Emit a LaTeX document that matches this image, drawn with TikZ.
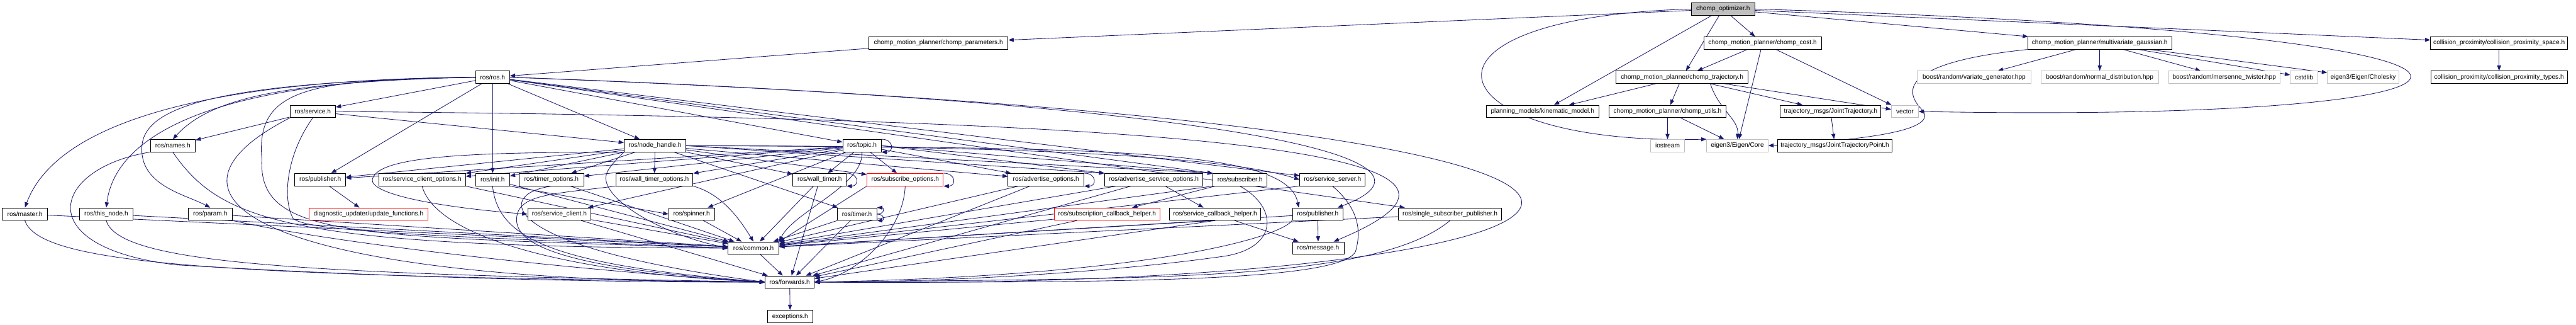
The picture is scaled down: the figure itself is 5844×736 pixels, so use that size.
\documentclass[tikz,border=0pt]{standalone}
\usepackage{fontspec}
\setmainfont{Liberation Sans}
\usetikzlibrary{arrows.meta}
\definecolor{edgeblue}{HTML}{191970}
\definecolor{rootgray}{HTML}{BFBFBF}
\definecolor{extgray}{HTML}{BFBFBF}
\pgfdeclarelayer{background}
\pgfsetlayers{background,main}

\begin{document}
\begin{tikzpicture}[
    x=1pt, y=-1pt, % one unit = one pixel of the graph, y going down
    every node/.style={font=\fontsize{14.5}{17}\selectfont},
    filebox/.style={draw=black, fill=white, line width=1.3pt,
        minimum height=28pt, inner sep=0pt},
    extbox/.style={filebox, draw=extgray},
    nodocbox/.style={filebox, draw=red},
    rootbox/.style={filebox, fill=rootgray},
    dep/.style={draw=edgeblue, line width=1.2pt,
        -{Triangle[length=12pt, width=9pt]}}
]
    \useasboundingbox (0,0) rectangle (5844,736);

    % --- 1. ROWS OF THE GRAPH ---
    \def\yA{20.5}
    \def\yB{97.5}
    \def\yC{175}
    \def\yD{252.5}
    \def\yE{330}
    \def\yF{407}
    \def\yG{485}
    \def\yH{562}
    \def\yI{639}
    \def\yJ{717}

    % --- 2. FILES ---
    \node[rootbox, minimum width=144pt] (opt) at (3909,\yA) {chomp\_optimizer.h};

    \node[filebox, minimum width=316pt] (params) at (2129,\yB) {chomp\_motion\_planner/chomp\_parameters.h};
    \node[filebox, minimum width=267pt] (cost) at (3998.5,\yB) {chomp\_motion\_planner/chomp\_cost.h};
    \node[filebox, minimum width=327pt] (mvg) at (4763.5,\yB) {chomp\_motion\_planner/multivariate\_gaussian.h};
    \node[filebox, minimum width=311pt] (cpspace) at (5669.5,\yB) {collision\_proximity/collision\_proximity\_space.h};

    \node[filebox, minimum width=77pt] (rosh) at (1117.5,\yC) {ros/ros.h};
    \node[filebox, minimum width=300pt] (traj) at (3816,\yC) {chomp\_motion\_planner/chomp\_trajectory.h};
    \node[extbox, minimum width=257pt] (variate) at (4478.5,\yC) {boost/random/variate\_generator.hpp};
    \node[extbox, minimum width=267pt] (normal) at (4763.5,\yC) {boost/random/normal\_distribution.hpp};
    \node[extbox, minimum width=252pt] (mersenne) at (5046,\yC) {boost/random/mersenne\_twister.hpp};
    \node[extbox, minimum width=62pt] (cstdlib) at (5227,\yC) {cstdlib};
    \node[extbox, minimum width=162pt] (cholesky) at (5361,\yC) {eigen3/Eigen/Cholesky};
    \node[filebox, minimum width=309pt] (cptypes) at (5669.5,\yC) {collision\_proximity/collision\_proximity\_types.h};

    \node[filebox, minimum width=103pt] (service) at (709.5,\yD) {ros/service.h};
    \node[filebox, minimum width=255pt] (kinmodel) at (3499.5,\yD) {planning\_models/kinematic\_model.h};
    \node[filebox, minimum width=266pt] (utils) at (3783,\yD) {chomp\_motion\_planner/chomp\_utils.h};
    \node[filebox, minimum width=228pt] (jtraj) at (4153,\yD) {trajectory\_msgs/JointTrajectory.h};
    \node[extbox, minimum width=61pt] (vector) at (4321.5,\yD) {vector};

    \node[filebox, minimum width=102pt] (names) at (392,\yE) {ros/names.h};
    \node[filebox, minimum width=140pt] (nodehandle) at (1486,\yE) {ros/node\_handle.h};
    \node[filebox, minimum width=87pt] (topic) at (1955.5,\yE) {ros/topic.h};
    \node[extbox, minimum width=78pt] (iostream) at (3783,\yE) {iostream};
    \node[extbox, minimum width=139pt] (eigencore) at (3941.5,\yE) {eigen3/Eigen/Core};
    \node[filebox, minimum width=259pt] (jtpoint) at (4162.5,\yE) {trajectory\_msgs/JointTrajectoryPoint.h};

    \node[filebox, minimum width=115pt] (pubA) at (726.5,\yF) {ros/publisher.h};
    \node[filebox, minimum width=197pt] (scliopt) at (957.5,\yF) {ros/service\_client\_options.h};
    \node[filebox, minimum width=77pt] (init) at (1117.5,\yF) {ros/init.h};
    \node[filebox, minimum width=146pt] (timeropt) at (1251,\yF) {ros/timer\_options.h};
    \node[filebox, minimum width=175pt] (wtimeropt) at (1484.5,\yF) {ros/wall\_timer\_options.h};
    \node[filebox, minimum width=121pt] (wtimer) at (1859.5,\yF) {ros/wall\_timer.h};
    \node[nodocbox, minimum width=173pt] (subopt) at (2053.5,\yF) {ros/subscribe\_options.h};
    \node[filebox, minimum width=172pt] (advopt) at (2373,\yF) {ros/advertise\_options.h};
    \node[filebox, minimum width=223pt] (advsrvopt) at (2617.5,\yF) {ros/advertise\_service\_options.h};
    \node[filebox, minimum width=122pt] (subscriber) at (2813,\yF) {ros/subscriber.h};
    \node[filebox, minimum width=148pt] (srvserver) at (3023,\yF) {ros/service\_server.h};

    \node[filebox, minimum width=103pt] (master) at (56.5,\yG) {ros/master.h};
    \node[filebox, minimum width=120pt] (thisnode) at (241,\yG) {ros/this\_node.h};
    \node[filebox, minimum width=100pt] (param) at (477,\yG) {ros/param.h};
    \node[nodocbox, minimum width=270pt] (updfun) at (836,\yG) {diagnostic\_updater/update\_functions.h};
    \node[filebox, minimum width=144pt] (sclient) at (1269,\yG) {ros/service\_client.h};
    \node[filebox, minimum width=104pt] (spinner) at (1569,\yG) {ros/spinner.h};
    \node[filebox, minimum width=90pt] (timer) at (1944,\yG) {ros/timer.h};
    \node[nodocbox, minimum width=239pt] (subcbh) at (2511.5,\yG) {ros/subscription\_callback\_helper.h};
    \node[filebox, minimum width=207pt] (srvcbh) at (2756.5,\yG) {ros/service\_callback\_helper.h};
    \node[filebox, minimum width=115pt] (pubB) at (2989.5,\yG) {ros/publisher.h};
    \node[filebox, minimum width=233pt] (ssp) at (3289.5,\yG) {ros/single\_subscriber\_publisher.h};

    \node[filebox, minimum width=115pt] (common) at (1709.5,\yH) {ros/common.h};
    \node[filebox, minimum width=117pt] (message) at (2990.5,\yH) {ros/message.h};
    \node[filebox, minimum width=111pt] (forwards) at (1791.5,\yI) {ros/forwards.h};
    \node[filebox, minimum width=103pt] (exceptions) at (1792.5,\yJ) {exceptions.h};

    \begin{pgfonlayer}{background}
    % --- 3. CHOMP SIDE ---
    \draw[dep] (opt) -- (params);
    \draw[dep] (opt) -- (kinmodel);
    \draw[dep] (opt) -- (traj);
    \draw[dep] (opt) -- (cost);
    \draw[dep] (opt) -- (mvg);
    \draw[dep] (opt) -- (cpspace);
    \draw[dep] (opt.west) .. controls (3150,40) and (3250,330) .. (eigencore.north west);
    \draw[dep] (opt.east) .. controls (6000,80) and (5800,280) .. (vector.east);
    \draw[dep] (params) -- (rosh);
    \draw[dep] (cost) -- (traj);
    \draw[dep] (cost) -- (eigencore);
    \draw[dep] (cost) -- (vector);
    \draw[dep] (traj) -- (kinmodel);
    \draw[dep] (traj) -- (utils);
    \draw[dep] ([xshift=64pt]traj.south) .. controls (3900,250) and (3945,270) .. (eigencore.north);
    \draw[dep] (traj) -- (jtraj);
    \draw[dep] (traj) -- (vector);
    \draw[dep] (utils) -- (iostream);
    \draw[dep] (utils) -- (eigencore);
    \draw[dep] (jtraj) -- (jtpoint);
    \draw[dep] (mvg.south west) .. controls (4330,140) and (4310,200) .. (4362,250)
        .. controls (4400,300) and (4200,318) .. (eigencore.east);
    \draw[dep] (mvg) -- (variate);
    \draw[dep] (mvg) -- (normal);
    \draw[dep] (mvg) -- (mersenne);
    \draw[dep] (mvg) -- (cstdlib);
    \draw[dep] (mvg) -- (cholesky);
    \draw[dep] (cpspace) -- (cptypes);

    % --- 4. ROS HEADERS ---
    % ros.h
    \draw[dep] (rosh.west) .. controls (400,180) and (120,300) .. (master.north);
    \draw[dep] (rosh.west) .. controls (450,180) and (260,320) .. (thisnode.north);
    \draw[dep] (rosh.west) .. controls (500,185) and (330,240) .. (322,330)
        .. controls (315,420) and (420,440) .. (param.north);
    \draw[dep] (rosh.west) .. controls (650,185) and (480,220) .. (names.north);
    \draw[dep] (rosh.west) .. controls (700,180) and (580,200) .. (594,360)
        .. controls (585,540) and (800,535) .. (common.west);
    \draw[dep] (rosh) -- (service);
    \draw[dep] (rosh) -- (pubA);
    \draw[dep] (rosh) -- (init);
    \draw[dep] (rosh) -- (nodehandle);
    \draw[dep] (rosh) -- (topic);
    \draw[dep] (rosh) -- (subscriber.north west);
    \draw[dep] (rosh) -- (srvserver);
    \draw[dep] (rosh) -- (ssp);
    \draw[dep] (rosh.east) .. controls (2700,230) and (3350,350) .. ([xshift=45pt]pubB.north);
    \draw[dep] (rosh.east) .. controls (4500,300) and (3700,660) .. (forwards.east);

    % service.h, names.h and the left column
    \draw[dep] (service) -- (names);
    \draw[dep] (service) -- (nodehandle);
    \draw[dep] (service.south) .. controls (650,350) and (640,450) .. (665,495)
        .. controls (700,525) and (1000,535) .. (common.west);
    \draw[dep] (service.south west) .. controls (300,450) and (600,640) .. (forwards.west);
    \draw[dep] (service.east) .. controls (2800,270) and (3500,350) .. ([xshift=35pt]message.north);
    \draw[dep] (names.south) .. controls (500,500) and (650,560) .. (common.west);
    \draw[dep] (names.south west) .. controls (120,380) and (60,560) .. (400,600)
        .. controls (900,630) and (1400,640) .. (forwards.west);
    \draw[dep] (master) -- (common);
    \draw[dep] (master.south) .. controls (90,600) and (500,625) .. (forwards.west);
    \draw[dep] (thisnode) -- (common);
    \draw[dep] (thisnode.south) .. controls (270,600) and (700,620) .. (forwards.west);
    \draw[dep] (param) -- (common);
    \draw[dep] (param.south east) .. controls (800,560) and (1400,620) .. (forwards.west);
    \draw[dep] (pubA) -- (updfun);

    % node_handle.h
    \draw[dep] (nodehandle) -- (pubA);
    \draw[dep] (nodehandle) -- (scliopt);
    \draw[dep] (nodehandle) -- (init);
    \draw[dep] (nodehandle) -- (timeropt);
    \draw[dep] (nodehandle) -- (wtimeropt);
    \draw[dep] (nodehandle) -- (wtimer);
    \draw[dep] (nodehandle) -- (timer);
    \draw[dep] (nodehandle) -- (subopt);
    \draw[dep] (nodehandle) -- (advopt);
    \draw[dep] (nodehandle.east) -- (advsrvopt.north west);
    \draw[dep] (nodehandle.east) -- (subscriber.north west);
    \draw[dep] (nodehandle.east) .. controls (2400,330) and (2800,360) .. (srvserver.west);
    \draw[dep] (nodehandle.east) .. controls (2500,335) and (2920,335) .. ([xshift=15pt]pubB.north west);
    \draw[dep] (nodehandle.south west) .. controls (1100,345) and (860,350) .. (845,405)
        .. controls (835,440) and (1000,470) .. (sclient.west);
    \draw[dep] (nodehandle.south west) .. controls (1390,370) and (1370,390) .. (1375,410)
        .. controls (1385,460) and (1500,530) .. (common.west);

    % topic.h
    \draw[dep] (topic.north east) to[out=0, in=0, looseness=2.5] (topic.south east);
    \draw[dep] (topic) -- (pubA);
    \draw[dep] (topic) -- (scliopt);
    \draw[dep] (topic) -- (timeropt);
    \draw[dep] (topic) -- (wtimeropt);
    \draw[dep] (topic) -- (wtimer);
    \draw[dep] (topic) -- (spinner);
    \draw[dep] (topic) -- (sclient);
    \draw[dep] (topic) -- (subopt);
    \draw[dep] (topic) -- (advopt);
    \draw[dep] (topic.east) -- (advsrvopt.north west);
    \draw[dep] (topic.east) -- (subscriber.north west);
    \draw[dep] (topic.south) .. controls (1960,420) and (1800,480) .. (common.north east);

    % options, timers, clients
    \draw[dep] (init.south east) -- (spinner.west);
    \draw[dep] (init) -- (common);
    \draw[dep] (init.south) .. controls (1130,540) and (1250,600) .. (forwards.west);
    \draw[dep] (scliopt.south east) -- (common);
    \draw[dep] (scliopt.south) .. controls (990,540) and (1300,620) .. (forwards.west);
    \draw[dep] (timeropt) -- (common);
    \draw[dep] (timeropt.south) .. controls (1120,440) and (1130,560) .. (forwards.west);
    \draw[dep] (wtimeropt.south east) .. controls (1640,440) and (1680,500) .. (common.north);
    \draw[dep] (wtimeropt.south west) .. controls (1250,440) and (1170,440) .. (1172,500)
        .. controls (1175,560) and (1300,610) .. (forwards.west);
    \draw[dep] (wtimer.north east) to[out=0, in=0, looseness=2.5] (wtimer.south east);
    \draw[dep] (wtimer) -- (common);
    \draw[dep] (wtimer) -- (forwards);
    \draw[dep] (sclient) -- (common);
    \draw[dep] (sclient) -- (forwards);
    \draw[dep] (spinner) -- (common);
    \draw[dep] (timer.east) to[out=0, in=0, looseness=3] (timer.north east);
    \draw[dep] (timer.east) to[out=0, in=0, looseness=3] (timer.south east);
    \draw[dep] (timer) -- (common);
    \draw[dep] (timer) -- (forwards);

    % subscribe / advertise side
    \draw[dep] (subopt.north east) to[out=0, in=0, looseness=2.5] (subopt.south east);
    \draw[dep] (subopt.south west) -- (common.north east);
    \draw[dep] (subopt.south) .. controls (2050,520) and (1950,620) .. (forwards.east);
    \draw[dep] (advopt.north east) to[out=0, in=0, looseness=2.5] (advopt.south east);
    \draw[dep] (advopt) -- (common);
    \draw[dep] (advopt) -- (forwards);
    \draw[dep] (advsrvopt) -- (srvcbh);
    \draw[dep] (advsrvopt) -- (common);
    \draw[dep] (advsrvopt) -- (forwards);
    \draw[dep] (subscriber) -- (subcbh);
    \draw[dep] (subscriber.south west) -- (common);
    \draw[dep] (subscriber.south) .. controls (2900,470) and (2900,560) .. (2780,580)
        .. controls (2500,620) and (2100,640) .. (forwards.east);
    \draw[dep] (subcbh) -- (common);
    \draw[dep] (subcbh) -- (forwards);
    \draw[dep] (srvcbh) -- (message);
    \draw[dep] (srvcbh.south) -- (common);
    \draw[dep] (srvcbh.south) -- (forwards);
    \draw[dep] (srvserver.south west) -- (common);
    \draw[dep] (srvserver.south) .. controls (3080,470) and (3090,520) .. (3075,570)
        .. controls (3040,640) and (2500,640) .. (forwards.east);
    \draw[dep] (pubB) -- (message);
    \draw[dep] (pubB) -- (common);
    \draw[dep] (pubB.south west) .. controls (2900,540) and (2600,625) .. (forwards.east);
    \draw[dep] (ssp) -- (common);
    \draw[dep] (ssp.south) .. controls (3120,640) and (2600,630) .. (forwards.east);

    % bottom of the chain
    \draw[dep] (common) -- (forwards);
    \draw[dep] (forwards) -- (exceptions);
    \end{pgfonlayer}

\end{tikzpicture}
\end{document}
